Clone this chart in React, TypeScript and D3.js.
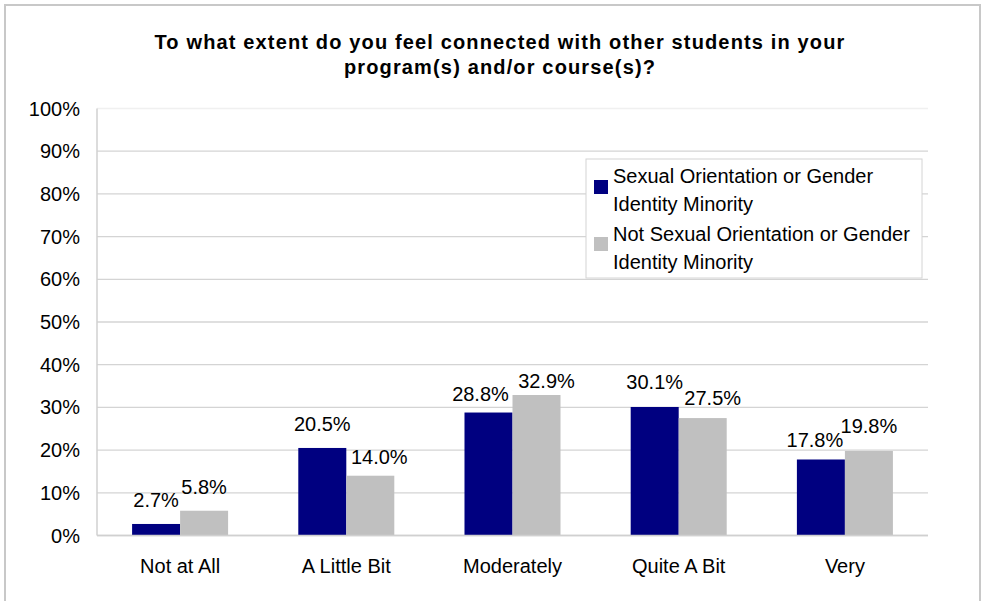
import React from "react";
import * as d3 from "d3";

const categories = ["Not at All", "A Little Bit", "Moderately", "Quite A Bit", "Very"];
const minorityValues = [2.7, 20.5, 28.8, 30.1, 17.8];
const notMinorityValues = [5.8, 14.0, 32.9, 27.5, 19.8];
const seriesNames = ["Sexual Orientation or Gender Identity Minority", "Not Sexual Orientation or Gender Identity Minority"];
const legendLines = [
  ["Sexual Orientation or Gender", "Identity Minority"],
  ["Not Sexual Orientation or Gender", "Identity Minority"],
];
const yTicks = [0, 10, 20, 30, 40, 50, 60, 70, 80, 90, 100];
const titleLines = [
  "To what extent do you feel connected with other students in your",
  "program(s) and/or course(s)?",
];

// label offsets (layout, px), per series per category
const labelGaps = [
  [17, 17, 12, 18, 12],
  [17, 12, 7, 13, 18],
];
const labelShifts = [
  [0, 0, -8, 0, -6],
  [0, 9, 10, 10, 0],
];

const W = 984;
const H = 601;
const FONT = "'Liberation Sans', Arial, sans-serif";
const colors = ["#000080", "#C0C0C0"];

export default function App() {
  const left = 97;
  const right = 928;
  const top = 108.5;
  const bottom = 535.5;

  const x = d3.scaleBand<string>().domain(categories).range([left, right]).padding(0);
  const sub = d3
    .scaleBand<number>()
    .domain([0, 1])
    .range([0, x.bandwidth()])
    .paddingInner(0)
    .paddingOuter(0.731);
  const y = d3.scaleLinear().domain([0, 100]).range([bottom, top]);

  const series = [minorityValues, notMinorityValues];

  return (
    <svg
      width={W}
      height={H}
      style={{ position: "absolute", left: 0, top: 0, background: "#fff" }}
      fontFamily={FONT}
    >
      <rect x={0} y={0} width={W} height={H} fill="#fff" />
      <rect x={5} y={5} width={975} height={620} fill="none" stroke="#c8c8c8" strokeWidth={2} />

      {titleLines.map((t, i) => (
        <text
          key={i}
          x={500}
          y={49 + i * 25}
          textAnchor="middle"
          fontSize={20}
          fontWeight="bold"
          letterSpacing={1.15}
          fill="#000"
        >
          {t}
        </text>
      ))}

      {yTicks.map((t) => (
        <g key={t}>
          <line x1={left} x2={right} y1={y(t)} y2={y(t)} stroke={t === 100 ? "#f0f0f0" : "#d4d4d4"} strokeWidth={1.3} />
          <text x={80} y={y(t) + 7} textAnchor="end" fontSize={20} fill="#000">
            {t}%
          </text>
        </g>
      ))}
      <line x1={left} x2={left} y1={top} y2={bottom} stroke="#d0d0d0" strokeWidth={1.5} />

      {series.map((vals, si) =>
        vals.map((v, ci) => {
          const bx = (x(categories[ci]) as number) + (sub(si) as number);
          const bw = sub.bandwidth();
          return (
            <g key={`${si}-${ci}`}>
              <rect x={bx} y={y(v)} width={bw} height={y(0) - y(v)} fill={colors[si]} />
              <text
                x={bx + bw / 2 + labelShifts[si][ci]}
                y={y(v) - labelGaps[si][ci]}
                textAnchor="middle"
                fontSize={20}
                fill="#000"
              >
                {v.toFixed(1)}%
              </text>
            </g>
          );
        })
      )}
      <line x1={left} x2={right} y1={bottom} y2={bottom} stroke="#d0d0d0" strokeWidth={1.5} />

      {categories.map((c) => (
        <text
          key={c}
          x={(x(c) as number) + x.bandwidth() / 2}
          y={573}
          textAnchor="middle"
          fontSize={20}
          fill="#000"
        >
          {c}
        </text>
      ))}

      <g>
        <rect x={586} y={159} width={336} height={119} fill="#fff" stroke="#d4d4d4" strokeWidth={1} />
        {legendLines.map((lines, i) => (
          <g key={i} aria-label={seriesNames[i]}>
            <rect x={594} y={180 + i * 57} width={14} height={14} fill={colors[i]} />
            {lines.map((ln, j) => (
              <text key={j} x={613} y={183 + i * 58 + j * 27.5} fontSize={20} fill="#000">
                {ln}
              </text>
            ))}
          </g>
        ))}
      </g>
    </svg>
  );
}
